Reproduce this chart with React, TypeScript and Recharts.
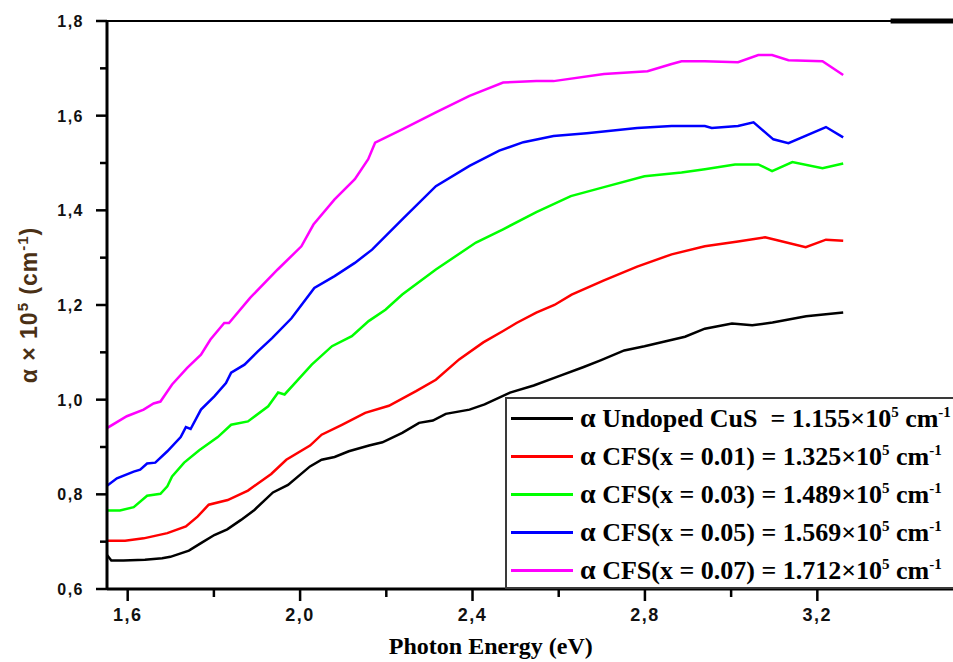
import React from "react";
import { LineChart, Line, XAxis, YAxis, Label, ReferenceLine } from "recharts";

// photon energy (eV) / absorption coefficient (x10^5 cm^-1)
const undopedE = [1.552, 1.562, 1.59, 1.64, 1.68, 1.699, 1.742, 1.77, 1.801, 1.831, 1.863, 1.894, 1.937, 1.972, 2.023, 2.05, 2.08, 2.113, 2.16, 2.191, 2.237, 2.276, 2.308, 2.338, 2.393, 2.428, 2.487, 2.542, 2.596, 2.658, 2.697, 2.752, 2.799, 2.846, 2.893, 2.939, 3.002, 3.049, 3.096, 3.174, 3.26];
const undopedA = [0.672, 0.66, 0.66, 0.662, 0.665, 0.668, 0.681, 0.697, 0.714, 0.726, 0.746, 0.767, 0.804, 0.82, 0.859, 0.873, 0.879, 0.891, 0.903, 0.91, 0.93, 0.951, 0.956, 0.97, 0.979, 0.99, 1.015, 1.03, 1.048, 1.069, 1.083, 1.104, 1.113, 1.123, 1.133, 1.15, 1.161, 1.157, 1.163, 1.176, 1.184];

const cfs01E = [1.552, 1.594, 1.637, 1.692, 1.735, 1.762, 1.788, 1.832, 1.879, 1.933, 1.968, 2.023, 2.05, 2.097, 2.151, 2.206, 2.269, 2.315, 2.369, 2.425, 2.471, 2.502, 2.548, 2.59, 2.63, 2.705, 2.782, 2.862, 2.939, 3.016, 3.079, 3.119, 3.173, 3.22, 3.26];
const cfs01A = [0.702, 0.702, 0.707, 0.718, 0.732, 0.753, 0.778, 0.788, 0.808, 0.843, 0.873, 0.903, 0.926, 0.947, 0.972, 0.987, 1.018, 1.042, 1.085, 1.121, 1.145, 1.162, 1.184, 1.2, 1.222, 1.252, 1.281, 1.307, 1.324, 1.334, 1.343, 1.334, 1.322, 1.338, 1.336];

const cfs03E = [1.552, 1.582, 1.614, 1.645, 1.676, 1.692, 1.703, 1.731, 1.766, 1.809, 1.84, 1.879, 1.926, 1.949, 1.964, 1.988, 2.027, 2.074, 2.12, 2.159, 2.198, 2.237, 2.315, 2.408, 2.471, 2.548, 2.628, 2.705, 2.799, 2.885, 2.939, 3.009, 3.063, 3.095, 3.142, 3.212, 3.26];
const cfs03A = [0.766, 0.766, 0.773, 0.797, 0.801, 0.817, 0.838, 0.867, 0.893, 0.921, 0.947, 0.954, 0.986, 1.015, 1.011, 1.035, 1.074, 1.113, 1.134, 1.166, 1.19, 1.222, 1.275, 1.332, 1.36, 1.396, 1.43, 1.449, 1.472, 1.48, 1.487, 1.497, 1.497, 1.483, 1.502, 1.489, 1.499];

const cfs05E = [1.552, 1.575, 1.614, 1.629, 1.645, 1.664, 1.692, 1.723, 1.735, 1.746, 1.77, 1.801, 1.828, 1.84, 1.871, 1.902, 1.935, 1.98, 2.033, 2.08, 2.127, 2.167, 2.237, 2.315, 2.393, 2.462, 2.518, 2.588, 2.665, 2.782, 2.862, 2.939, 2.955, 3.016, 3.052, 3.098, 3.133, 3.22, 3.26];
const cfs05A = [0.818, 0.834, 0.848, 0.852, 0.865, 0.867, 0.891, 0.921, 0.942, 0.938, 0.979, 1.007, 1.035, 1.057, 1.074, 1.102, 1.13, 1.172, 1.236, 1.261, 1.289, 1.317, 1.381, 1.451, 1.494, 1.526, 1.544, 1.557, 1.563, 1.574, 1.578, 1.578, 1.574, 1.578, 1.586, 1.55, 1.542, 1.576, 1.554];

const cfs07E = [1.552, 1.598, 1.637, 1.66, 1.676, 1.703, 1.738, 1.77, 1.792, 1.824, 1.835, 1.884, 1.948, 2.003, 2.031, 2.08, 2.127, 2.158, 2.174, 2.237, 2.315, 2.393, 2.471, 2.548, 2.588, 2.705, 2.806, 2.862, 2.885, 2.939, 3.016, 3.063, 3.095, 3.133, 3.212, 3.26];
const cfs07A = [0.94, 0.965, 0.979, 0.992, 0.996, 1.032, 1.067, 1.095, 1.127, 1.162, 1.162, 1.215, 1.275, 1.324, 1.37, 1.423, 1.466, 1.508, 1.543, 1.571, 1.607, 1.642, 1.67, 1.673, 1.673, 1.688, 1.694, 1.709, 1.715, 1.715, 1.713, 1.728, 1.728, 1.717, 1.715, 1.686];

const seriesNames = ["Undoped CuS ", "CFS(x = 0.01)", "CFS(x = 0.03)", "CFS(x = 0.05)", "CFS(x = 0.07)"];
const seriesAlpha = ["1.155", "1.325", "1.489", "1.569", "1.712"];

const xMajor = [1.6, 2.0, 2.4, 2.8, 3.2];
const xMinor = [1.8, 2.2, 2.6, 3.0];
const yMajor = [0.6, 0.8, 1.0, 1.2, 1.4, 1.6, 1.8];
const yMinor = [0.7, 0.9, 1.1, 1.3, 1.5, 1.7];

const colors = ["#000000", "#ff0000", "#00ff00", "#0000ff", "#ff00ff"];
const X_DOMAIN: [number, number] = [1.552, 3.531];
const Y_DOMAIN: [number, number] = [0.6, 1.8];

const toPoints = (e: number[], a: number[]) => e.map((x, i) => ({ x, y: a[i] }));
const series = [
	toPoints(undopedE, undopedA),
	toPoints(cfs01E, cfs01A),
	toPoints(cfs03E, cfs03A),
	toPoints(cfs05E, cfs05A),
	toPoints(cfs07E, cfs07A),
];

const comma = (v: number) => v.toFixed(1).replace(".", ",");
const isMajor = (list: number[], v: number) => list.some((m) => Math.abs(m - v) < 1e-6);

const sansBold = { fontFamily: "'Liberation Sans', Arial, sans-serif", fontWeight: 700 };
const serifBold = { fontFamily: "'Liberation Serif', 'Times New Roman', serif", fontWeight: 700 };

const XTick = (props: any) => {
	const { x, y, payload } = props;
	const major = isMajor(xMajor, payload.value);
	return (
		<g>
			<line x1={x} x2={x} y1={y} y2={y + (major ? 12 : 8)} stroke="#000" strokeWidth={2.5} />
			{major && (
				<text x={x} y={y + 32} textAnchor="middle" fontSize={18} letterSpacing={1.5} fill="#111" style={sansBold}>
					{comma(payload.value)}
				</text>
			)}
		</g>
	);
};

const YTick = (props: any) => {
	const { x, y, payload } = props;
	const major = isMajor(yMajor, payload.value);
	return (
		<g>
			<line x1={x - (major ? 11 : 7)} x2={x} y1={y} y2={y} stroke="#000" strokeWidth={2.5} />
			{major && (
				<text x={x - 23} y={y + 6} textAnchor="end" fontSize={16} letterSpacing={1.5} fill="#111" style={sansBold}>
					{comma(payload.value)}
				</text>
			)}
		</g>
	);
};

const YTitle = (props: any) => {
	const { viewBox } = props;
	const cy = viewBox.y + viewBox.height / 2;
	return (
		<text transform={`translate(37, ${cy}) rotate(-90)`} textAnchor="middle" fontSize={23} letterSpacing={1} fill="#4a3015" style={sansBold}>
			α × 10<tspan dy={-9} fontSize={15}>5</tspan>
			<tspan dy={9}> (cm</tspan>
			<tspan dy={-9} fontSize={15}>-1</tspan>
			<tspan dy={9}>)</tspan>
		</text>
	);
};

const XTitle = (props: any) => {
	const { viewBox } = props;
	return (
		<text x={viewBox.x + viewBox.width * 0.45} y={viewBox.y + viewBox.height - 8} textAnchor="middle" fontSize={24} fill="#000" style={serifBold}>
			Photon Energy (eV)
		</text>
	);
};

const supStyle = { fontSize: 15, verticalAlign: 10, lineHeight: 0 };

const LegendBox = () => (
	<div
		style={{
			position: "absolute",
			left: 505,
			top: 397,
			width: 460,
			height: 192,
			boxSizing: "border-box",
			border: "2px solid #3a3a3a",
			background: "#fff",
			...serifBold,
			fontSize: 26,
			color: "#000",
		}}
	>
		{seriesNames.map((name, i) => (
			<div key={name} style={{ display: "flex", alignItems: "center", height: 38, whiteSpace: "pre" }}>
				<span style={{ display: "inline-block", width: 62, height: 3, background: colors[i], marginLeft: 4, marginRight: 7 }} />
				<span>
					<span style={{ fontSize: 28 }}>α</span> {name} = {seriesAlpha[i]}×10<sup style={supStyle}>5</sup> cm<sup style={supStyle}>-1</sup>
				</span>
			</div>
		))}
	</div>
);

export default function App() {
	const xTicks = [...xMajor, ...xMinor].sort((a, b) => a - b);
	const yTicks = [...yMajor, ...yMinor].sort((a, b) => a - b);
	return (
		<div style={{ position: "absolute", left: 0, top: 0, width: 953, height: 662, background: "#fff", overflow: "hidden" }}>
			<LineChart width={960} height={662} margin={{ top: 21, right: 0, bottom: 0, left: 0 }}>
				<XAxis
					type="number"
					dataKey="x"
					domain={X_DOMAIN}
					allowDataOverflow
					ticks={xTicks}
					interval={0}
					height={73}
					tickSize={0}
					tickMargin={0}
					tickLine={false}
					tick={<XTick />}
					axisLine={{ stroke: "#000", strokeWidth: 3 }}
				>
					<Label content={<XTitle />} />
				</XAxis>
				<YAxis
					type="number"
					domain={Y_DOMAIN}
					allowDataOverflow
					ticks={yTicks}
					interval={0}
					width={107}
					tickSize={0}
					tickMargin={0}
					tickLine={false}
					tick={<YTick />}
					axisLine={{ stroke: "#000", strokeWidth: 3 }}
				>
					<Label content={<YTitle />} />
				</YAxis>
				<ReferenceLine y={1.8} stroke="#000" strokeWidth={2} ifOverflow="visible" />
				<ReferenceLine
					segment={[
						{ x: 3.37, y: 1.8 },
						{ x: 3.531, y: 1.8 },
					]}
					stroke="#000"
					strokeWidth={5}
					ifOverflow="visible"
				/>
				{series.map((data, i) => (
					<Line
						key={seriesNames[i]}
						data={data}
						dataKey="y"
						type="linear"
						stroke={colors[i]}
						strokeWidth={2.5}
						dot={false}
						activeDot={false}
						isAnimationActive={false}
					/>
				))}
			</LineChart>
			<LegendBox />
		</div>
	);
}
